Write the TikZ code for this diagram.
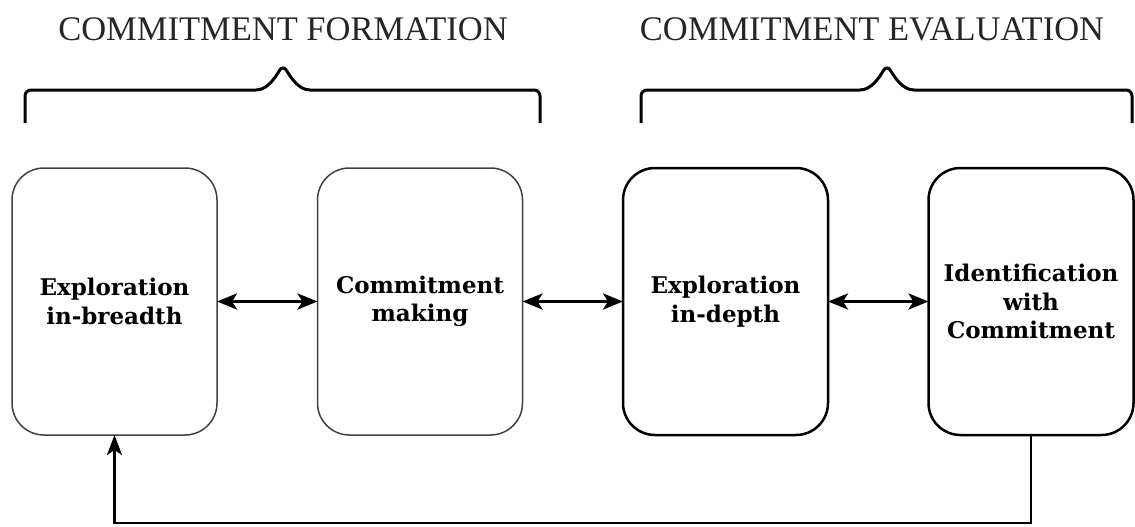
\documentclass[tikz,border=0pt]{standalone}
\usepackage{fontspec}
\setmainfont{Liberation Serif}
\newfontfamily\stagefont{DejaVu Serif}
\usetikzlibrary{chains,positioning,arrows.meta}

\begin{document}
\begin{tikzpicture}[x=1pt,y=-1pt,
  stagebox/.style={draw=black!75,line width=1.5pt,rounded corners=32pt,
    minimum width=205pt,minimum height=267pt,inner sep=0pt,outer sep=0pt,
    align=center,font=\stagefont\bfseries\fontsize{23}{28.5}\selectfont},
  stageboxdark/.style={stagebox,draw=black,line width=2.5pt},
  phase/.style={anchor=base,inner sep=0pt,text=black!85,
    font=\fontsize{34.5}{40}\selectfont},
  brace/.style={draw,line width=3pt,rounded corners=6pt},
  duplex/.style={line width=3.2pt,
    {Stealth[length=20pt,width=16pt,inset=5pt]}-{Stealth[length=20pt,width=16pt,inset=5pt]}},
  feedback/.style={line width=2.4pt,-{Stealth[length=20pt,width=15pt,inset=5pt]}}
]
\useasboundingbox (0,0) rectangle (1135,527);

% the phase titles
\node[phase] (tform) at (283,41) {COMMITMENT FORMATION};
\node[phase] (teval) at (872,41) {COMMITMENT EVALUATION};

% the braces
\draw[brace] (25,123) |- (250,90) .. controls (268,90) and (276,76) .. (283,65)
  .. controls (290,76) and (298,90) .. (316,90) -| (540,123);
\draw[brace] (641,123) |- (854,90) .. controls (872,90) and (880,76) .. (887,65)
  .. controls (894,76) and (902,90) .. (920,90) -| (1132,123);

% the stages
\begin{scope}[shift={(114.5,301.5)},start chain=going right,node distance=100.5pt]
\foreach \i/\st/\txt in {1/stagebox/{Exploration\\in-breadth},
                          2/stagebox/{Commitment\\making},
                          3/stageboxdark/{Exploration\\in-depth},
                          4/stageboxdark/{Identification\\with\\Commitment}}
    \node[\st,on chain] (b\i) {\txt};
\end{scope}

% the arrows between stages
\foreach \i in {1,2,3} {
    \pgfmathtruncatemacro{\j}{\i + 1}%
    \draw[duplex] (b\i) -- (b\j);
}

% the way back
\draw[feedback] (b4.south) -- ++(0,88) -| (b1.south);

\end{tikzpicture}
\end{document}
